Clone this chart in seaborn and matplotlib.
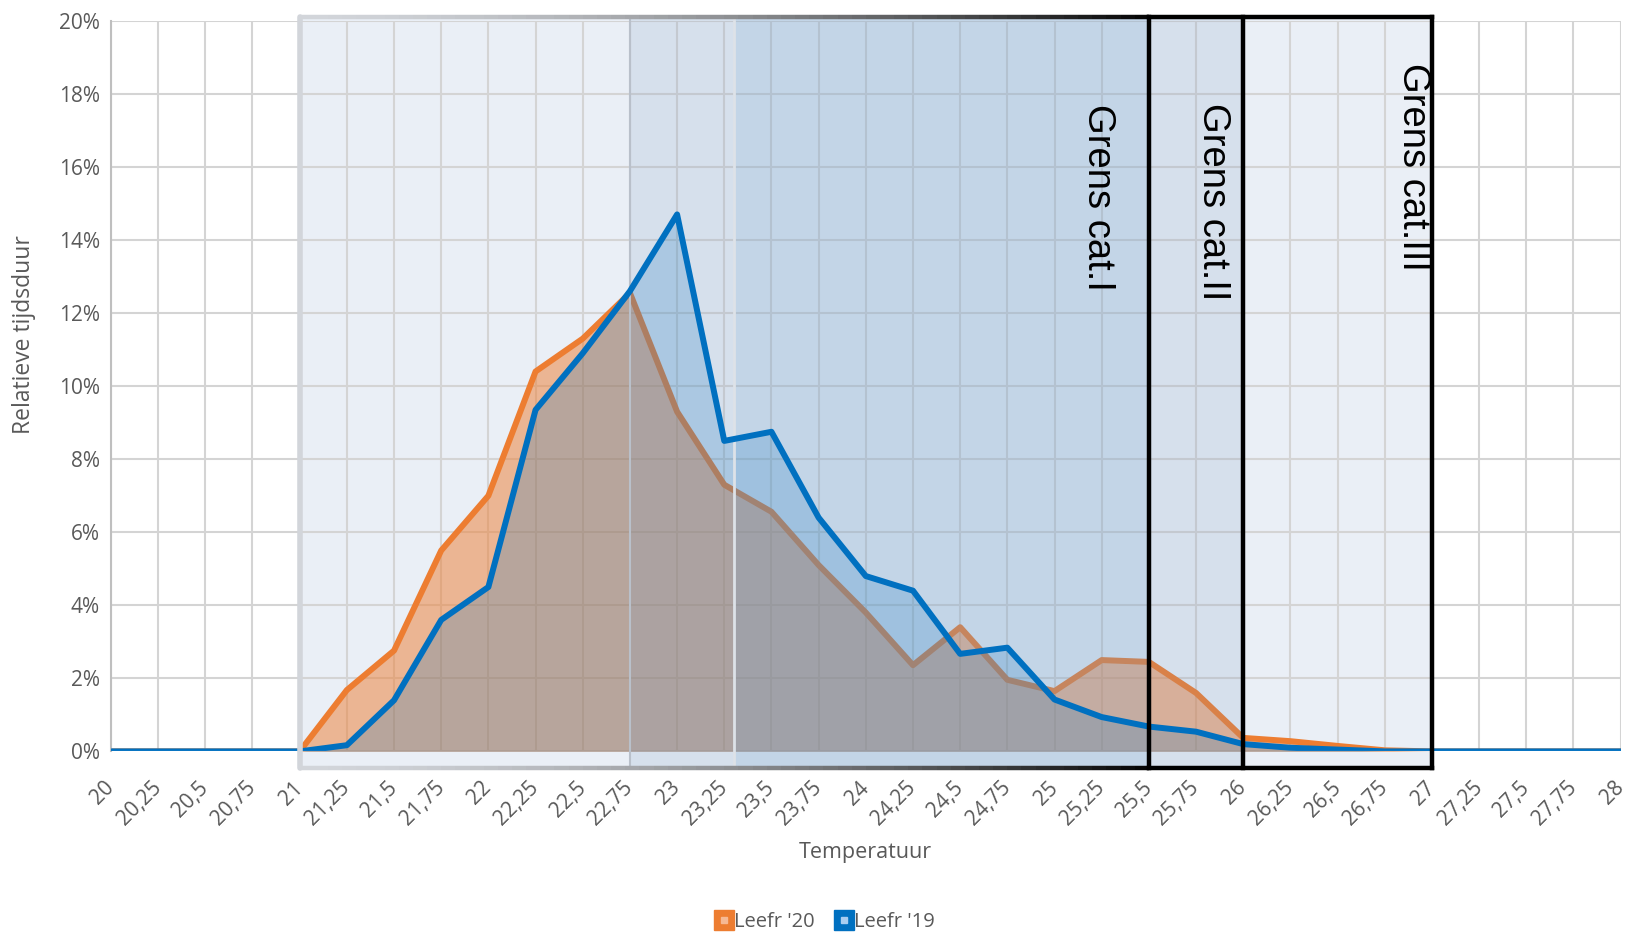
import numpy as np
import pandas as pd
import seaborn as sns
import matplotlib.pyplot as plt
from matplotlib.patches import Rectangle
from matplotlib.collections import LineCollection
from matplotlib.lines import Line2D
from matplotlib.legend_handler import HandlerTuple
from matplotlib.colors import to_rgb

# === DATA ===

#temperature classes (20 .. 28 in steps of 0.25)
temps = [20, 20.25, 20.5, 20.75, 21, 21.25, 21.5, 21.75, 22, 22.25, 22.5, 22.75,
         23, 23.25, 23.5, 23.75, 24, 24.25, 24.5, 24.75, 25, 25.25, 25.5, 25.75,
         26, 26.25, 26.5, 26.75, 27, 27.25, 27.5, 27.75, 28]
tick_labels = ['20', '20,25', '20,5', '20,75', '21', '21,25', '21,5', '21,75', '22',
               '22,25', '22,5', '22,75', '23', '23,25', '23,5', '23,75', '24', '24,25',
               '24,5', '24,75', '25', '25,25', '25,5', '25,75', '26', '26,25', '26,5',
               '26,75', '27', '27,25', '27,5', '27,75', '28']

#relative duration in %
leefr_20 = [0, 0, 0, 0, 0, 1.68, 2.76, 5.5, 7.0, 10.4, 11.3, 12.55, 9.3, 7.3, 6.56,
            5.1, 3.8, 2.36, 3.4, 1.96, 1.65, 2.5, 2.45, 1.6, 0.37, 0.28, 0.15, 0.03,
            0, 0, 0, 0, 0]
leefr_19 = [0, 0, 0, 0, 0, 0.17, 1.4, 3.6, 4.5, 9.35, 10.9, 12.6, 14.7, 8.5, 8.75,
            6.4, 4.8, 4.4, 2.67, 2.84, 1.42, 0.94, 0.68, 0.54, 0.2, 0.1, 0.05, 0,
            0, 0, 0, 0, 0]

#comfort category limits
zone_start = 21
grens = [25.5, 26, 27]
grens_labels = ['Grens cat.I', 'Grens cat.II', 'Grens cat.III']
band_b = (22.75, 26)
band_c = (23.3, 25.5)

df = pd.DataFrame({'Temperatuur': temps, "Leefr '20": leefr_20, "Leefr '19": leefr_19})

orange = '#ED7D31'
blue = '#0070C0'
grey_txt = '#595959'

# === PLOT ===

sns.set_style('white')
plt.rcParams['font.family'] = ['Open Sans', 'DejaVu Sans']

fig = plt.figure(figsize=(16.27, 9.34), dpi=100)
ax = fig.add_axes([0.0682, 0.1955, 0.9279, 0.7822])

ax.set_xlim(20, 28)
ax.set_ylim(0, 20)

#grid
ax.set_xticks(temps)
ax.set_yticks(np.arange(0, 21, 2))
ax.grid(True, color='#d4d4d4', lw=1.5, zorder=0)
ax.set_axisbelow(True)

#category zones (light blue background + darker bands)
y_top, y_bot = 20.1, -0.45
ax.add_patch(Rectangle((zone_start, y_bot), grens[2] - zone_start, y_top - y_bot,
                       facecolor='#dfe7f2', alpha=0.65, edgecolor='none', zorder=0.5, clip_on=False))
ax.add_patch(Rectangle((band_b[0], y_bot), band_b[1] - band_b[0], y_top - y_bot,
                       facecolor='#7896be', alpha=0.17, edgecolor='none', zorder=3, clip_on=False))
ax.add_patch(Rectangle((band_c[0], y_bot), band_c[1] - band_c[0], y_top - y_bot,
                       facecolor='#64a0d2', alpha=0.16, edgecolor='none', zorder=3, clip_on=False))

#area fills
ax.fill_between(df['Temperatuur'], df["Leefr '20"], color=orange, alpha=0.5, lw=0, zorder=1)
sns.lineplot(data=df, x='Temperatuur', y="Leefr '20", color=orange, lw=4.3, ax=ax, zorder=1.5)
ax.fill_between(df['Temperatuur'], df["Leefr '19"], color=blue, alpha=0.22, lw=0, zorder=2)
sns.lineplot(data=df, x='Temperatuur', y="Leefr '19", color=blue, lw=4.3, ax=ax, zorder=4)
ax.axhline(0, color='#b8d0ea', lw=0.8, zorder=4.5)

#zone borders: gradient from light grey to black along top and bottom
n = 60
xs = np.linspace(zone_start, grens[0], n + 1)
c0, c1 = np.array(to_rgb('#d2d5da')), np.array(to_rgb('#000000'))
cols = [c0 + (c1 - c0) * (i / n) ** 1.6 for i in range(n)]
for yy in (y_top, y_bot):
    segs = [[(xs[i], yy), (xs[i + 1], yy)] for i in range(n)]
    ax.add_collection(LineCollection(segs, colors=cols, lw=3.2, zorder=5, clip_on=False,
                                     capstyle='butt'))
    ax.plot([grens[0], grens[2]], [yy, yy], color='black', lw=3.2, zorder=5, clip_on=False,
            solid_capstyle='projecting')
ax.plot([zone_start, zone_start], [y_bot, y_top], color='#d2d5da', lw=4, zorder=5, clip_on=False)
ax.plot([band_b[0], band_b[0]], [y_bot, y_top], color='#b9c0ca', lw=1.5, zorder=3, clip_on=False)
ax.plot([band_c[0], band_c[0]], [y_bot, y_top], color='#dde2e8', lw=2, zorder=3, clip_on=False)
for g in grens:
    ax.plot([g, g], [y_bot, y_top], color='black', lw=3.2, zorder=5, clip_on=False,
            solid_capstyle='projecting')

#category labels
label_pos = [(25.23, 15.17), (25.84, 15.06), (26.9, 16.0)]
for (lx, ly), txt in zip(label_pos, grens_labels):
    ax.text(lx, ly, txt, rotation=-90, ha='center', va='center', fontsize=27.5,
            family=['Liberation Sans', 'DejaVu Sans'], color='black', zorder=6)

#axes styling
for s in ['top', 'right', 'bottom']:
    ax.spines[s].set_visible(False)
ax.spines['left'].set_color('#bfbfbf')
ax.spines['left'].set_linewidth(1.5)
ax.tick_params(length=0, labelsize=15, colors=grey_txt)
ax.set_xticklabels(tick_labels, rotation=45, ha='right', va='center', rotation_mode='anchor')
ax.tick_params(axis='x', pad=24)
ax.tick_params(axis='y', pad=8)
ax.set_yticklabels([f'{v}%' for v in range(0, 21, 2)])
ax.set_xlabel('Temperatuur', fontsize=15.5, color=grey_txt, va='center')
ax.xaxis.set_label_coords(0.5, -0.139)
ax.set_ylabel('Relatieve tijdsduur', fontsize=16.5, color=grey_txt, va='center', ha='center')
ax.yaxis.set_label_coords(-0.0576, 0.5706)

#legend with Excel style square markers
h20 = (Line2D([], [], marker='s', ms=15, color=orange, ls=''),
       Line2D([], [], marker='s', ms=4, color='#f6b994', ls=''))
h19 = (Line2D([], [], marker='s', ms=15, color=blue, ls=''),
       Line2D([], [], marker='s', ms=4, color='#a9cdf0', ls=''))
leg = fig.legend([h20, h19], ["Leefr '20", "Leefr '19"], loc='center', bbox_to_anchor=(0.507, 0.0133),
                 ncol=2, frameon=False, fontsize=14.5, handler_map={tuple: HandlerTuple(ndivide=1)},
                 handlelength=0.9, handletextpad=0.05, columnspacing=1.0)
for t in leg.get_texts():
    t.set_color(grey_txt)

fig.savefig('out.png', dpi=100)
